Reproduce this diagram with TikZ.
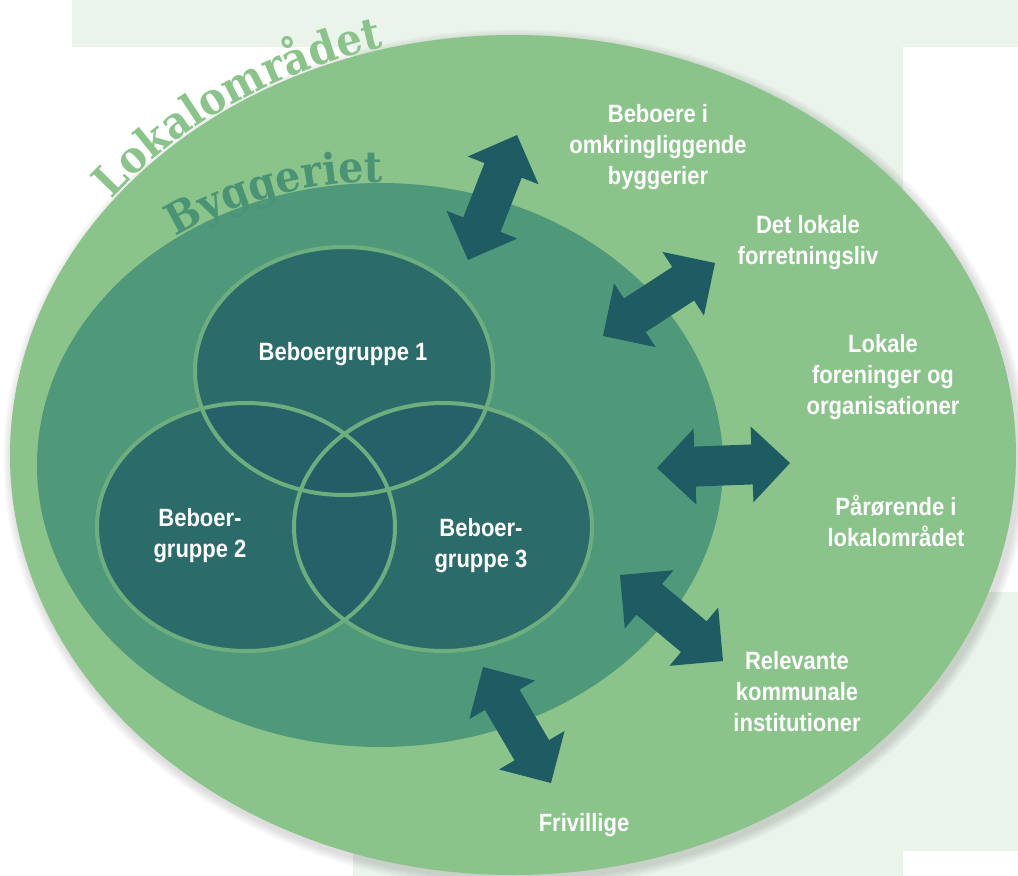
\documentclass[tikz,border=0pt]{standalone}
\usepackage{fontspec}
\usetikzlibrary{calc,decorations.text}
\newfontfamily\condfont[FakeStretch=0.88]{Liberation Sans}
\newfontfamily\slabfont[FakeStretch=0.92]{DejaVu Serif}
\definecolor{lightbg}{HTML}{EAF4EA}
\definecolor{outerg}{HTML}{8AC48A}
\definecolor{innerg}{HTML}{4F987A}
\definecolor{bygtext}{HTML}{4A9375}
\definecolor{circf}{HTML}{2B6C6B}
\definecolor{circftwo}{HTML}{26616A}
\definecolor{circfthree}{HTML}{245D66}
\definecolor{circline}{HTML}{6DAE7E}
\definecolor{arrowc}{HTML}{1F5B63}
\tikzset{
  lbl/.style={text=white, align=center, inner sep=0pt,
    font=\condfont\bfseries\fontsize{25}{31}\selectfont},
  arrowfill/.style={fill=arrowc},
  ring/.style={draw=circline, line width=4pt},
}
\newcommand{\dblarrow}[2]{%
  \fill[arrowfill] (#1)
    -- ($(#1)!38pt!(#2)!38pt!90:(#2)$)
    -- ($(#1)!38pt!(#2)!20pt!90:(#2)$)
    -- ($(#2)!38pt!(#1)!20pt!-90:(#1)$)
    -- ($(#2)!38pt!(#1)!38pt!-90:(#1)$)
    -- (#2)
    -- ($(#2)!38pt!(#1)!38pt!90:(#1)$)
    -- ($(#2)!38pt!(#1)!20pt!90:(#1)$)
    -- ($(#1)!38pt!(#2)!20pt!-90:(#2)$)
    -- ($(#1)!38pt!(#2)!38pt!-90:(#2)$)
    -- cycle;}
\begin{document}
\begin{tikzpicture}[x=1pt,y=-1pt]
\useasboundingbox (0,0) rectangle (1018,876);
% light page blocks
\fill[lightbg] (72,0) rectangle (1018,47);
\fill[lightbg] (353,0) rectangle (903,876);
\fill[lightbg] (903,592) rectangle (1018,851);
% soft shadow
\foreach \k in {1,...,6}{
  \fill[black, opacity=0.022] (516,459) ellipse [x radius=503+1.6*\k, y radius=420+1.6*\k];
}
% outer ellipse
\fill[outerg] (513,455) ellipse [x radius=503, y radius=420];
% Lokalomraadet text
\path[decorate, decoration={text along path, text align=center, raise=1.5pt,
   text color=outerg,
   text={|\slabfont\bfseries\fontsize{44}{44}\selectfont|Lokalområdet}}]
   (513,455) ++(205:503 and 420) arc[start angle=205, end angle=266, x radius=503, y radius=420];
% inner ellipse
\fill[innerg] (380,465) ellipse [x radius=343, y radius=282];
% Byggeriet text
\path[decorate, decoration={text along path, text align=center, raise=1pt,
   text color=bygtext,
   text={|\slabfont\bfseries\fontsize{43}{43}\selectfont|Byggeriet}}]
   (380,465) ++(221:343 and 282) arc[start angle=221, end angle=282, x radius=343, y radius=282];
% three groups
\fill[circf] (344,371) ellipse [x radius=149, y radius=124];
\fill[circf] (246,527) ellipse [x radius=149, y radius=124];
\fill[circf] (443,527) ellipse [x radius=149, y radius=124];
\begin{scope}
  \clip (344,371) ellipse [x radius=149, y radius=124];
  \fill[circftwo] (246,527) ellipse [x radius=149, y radius=124];
  \fill[circftwo] (443,527) ellipse [x radius=149, y radius=124];
\end{scope}
\begin{scope}
  \clip (246,527) ellipse [x radius=149, y radius=124];
  \fill[circftwo] (443,527) ellipse [x radius=149, y radius=124];
  \clip (344,371) ellipse [x radius=149, y radius=124];
  \fill[circfthree] (443,527) ellipse [x radius=149, y radius=124];
\end{scope}
\draw[ring] (344,371) ellipse [x radius=149, y radius=124];
\draw[ring] (246,527) ellipse [x radius=149, y radius=124];
\draw[ring] (443,527) ellipse [x radius=149, y radius=124];
% arrows
\coordinate (a1o) at (517,135); \coordinate (a1i) at (468,260);
\coordinate (a2o) at (715,263); \coordinate (a2i) at (603,336);
\coordinate (a3o) at (790,463); \coordinate (a3i) at (657,468);
\coordinate (a4o) at (723,661); \coordinate (a4i) at (620,575);
\coordinate (a5o) at (551,783); \coordinate (a5i) at (483,667);
\dblarrow{a1i}{a1o}
\dblarrow{a2i}{a2o}
\dblarrow{a3i}{a3o}
\dblarrow{a4i}{a4o}
\dblarrow{a5i}{a5o}
% labels
\node[lbl] (n1) at (658,147) {Beboere i\\omkringliggende\\byggerier};
\node[lbl] (n2) at (808,243) {Det lokale\\forretningsliv};
\node[lbl] (n3) at (883,377) {Lokale\\foreninger og\\organisationer};
\node[lbl] (n4) at (896,521) {Pårørende i\\lokalområdet};
\node[lbl] (n5) at (797,692) {Relevante\\kommunale\\institutioner};
\node[lbl] (n6) at (584,825) {Frivillige};
\node[lbl] (g1) at (343,354) {Beboergruppe 1};
\node[lbl] (g2) at (200,536) {Beboer-\\gruppe 2};
\node[lbl] (g3) at (481,546) {Beboer-\\gruppe 3};
\end{tikzpicture}
\end{document}
